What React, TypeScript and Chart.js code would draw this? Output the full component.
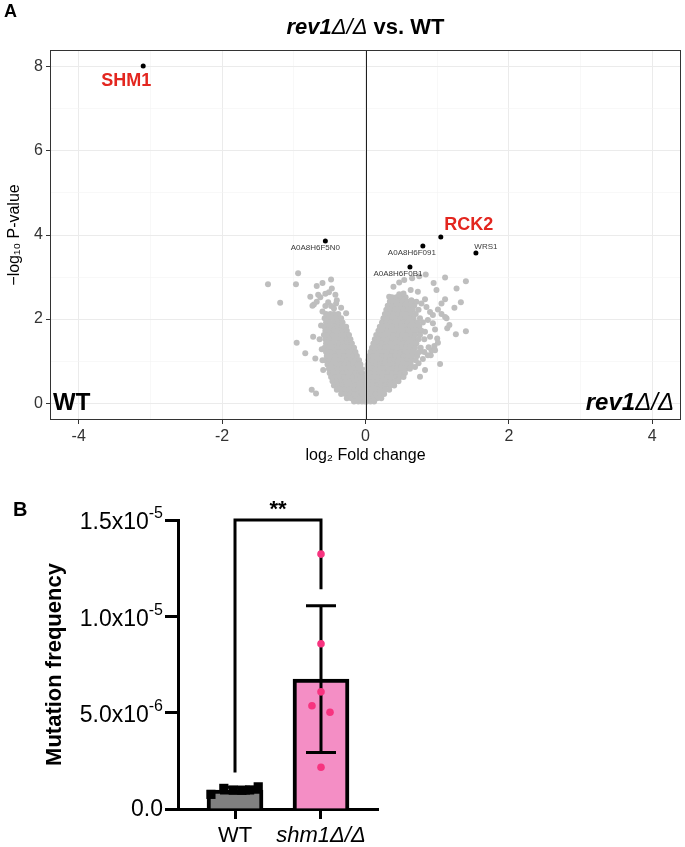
import React, { useEffect, useRef } from 'react';
import { Chart, registerables } from 'chart.js';

Chart.register(...registerables);

const FONT = "'Liberation Sans', Arial, Helvetica, sans-serif";

// ---------------- Panel A: volcano plot data ----------------
const volcanoTitle = ['rev1', 'Δ/Δ', ' vs. WT'];
const volcanoXTicks = [-4, -3, -2, -1, 0, 1, 2, 3, 4];
const volcanoXTickLabels = ['-4', '', '-2', '', '0', '', '2', '', '4'];
const volcanoYTicks = [0, 1, 2, 3, 4, 5, 6, 7, 8];
const volcanoYTickLabels = ['0', '', '2', '', '4', '', '6', '', '8'];

const highlightGenes = ['SHM1', 'A0A8H6F5N0', 'RCK2', 'A0A8H6F091', 'WRS1', 'A0A8H6F0B1'];
const highlightLog2FC = [-3.10, -0.56, 1.05, 0.80, 1.54, 0.62];
const highlightNegLogP = [8.02, 3.86, 3.95, 3.74, 3.57, 3.24];

// dense cloud rows: [ -log10 p, [log2 FC values] ]
const leftCloudRows: [number, number[]][] = [
  [2.12, [-0.55, -0.49, -0.44, -0.38]],
  [2.02, [-0.57, -0.51, -0.45, -0.40, -0.34]],
  [1.92, [-0.55, -0.50, -0.44, -0.38, -0.32]],
  [1.82, [-0.57, -0.51, -0.45, -0.39, -0.33, -0.27]],
  [1.72, [-0.56, -0.50, -0.44, -0.38, -0.32, -0.26]],
  [1.62, [-0.58, -0.52, -0.46, -0.40, -0.34, -0.28, -0.23]],
  [1.52, [-0.56, -0.50, -0.44, -0.38, -0.32, -0.26, -0.21]],
  [1.42, [-0.55, -0.49, -0.43, -0.37, -0.31, -0.25, -0.19]],
  [1.32, [-0.57, -0.51, -0.45, -0.39, -0.33, -0.27, -0.21, -0.16]],
  [1.22, [-0.55, -0.49, -0.43, -0.37, -0.31, -0.25, -0.19, -0.14]],
  [1.12, [-0.54, -0.48, -0.42, -0.36, -0.30, -0.24, -0.18, -0.12]],
  [1.02, [-0.56, -0.50, -0.44, -0.38, -0.32, -0.26, -0.20, -0.14, -0.09]],
  [0.92, [-0.53, -0.47, -0.41, -0.35, -0.29, -0.23, -0.17, -0.11, -0.07]],
  [0.82, [-0.51, -0.45, -0.39, -0.33, -0.27, -0.21, -0.15, -0.10, -0.06]],
  [0.72, [-0.50, -0.44, -0.38, -0.32, -0.26, -0.20, -0.14, -0.09, -0.05]],
  [0.62, [-0.48, -0.42, -0.36, -0.30, -0.24, -0.18, -0.12, -0.07, -0.04]],
  [0.52, [-0.46, -0.40, -0.34, -0.28, -0.22, -0.16, -0.10, -0.05, -0.03]],
  [0.42, [-0.44, -0.38, -0.32, -0.26, -0.20, -0.14, -0.08, -0.03]],
  [0.32, [-0.40, -0.34, -0.28, -0.22, -0.16, -0.10, -0.05, -0.02]],
  [0.22, [-0.34, -0.28, -0.22, -0.16, -0.10, -0.05, -0.01]],
  [0.12, [-0.26, -0.20, -0.14, -0.08, -0.03]],
  [0.04, [-0.16, -0.10, -0.05, -0.01]],
];

const rightCloudRows: [number, number[]][] = [
  [2.52, [0.37, 0.43, 0.49, 0.56]],
  [2.42, [0.34, 0.40, 0.46, 0.52, 0.58, 0.65]],
  [2.32, [0.31, 0.37, 0.43, 0.49, 0.55, 0.61, 0.68]],
  [2.22, [0.29, 0.35, 0.41, 0.47, 0.53, 0.59, 0.66, 0.74]],
  [2.12, [0.27, 0.33, 0.39, 0.45, 0.51, 0.57, 0.63, 0.70]],
  [2.02, [0.25, 0.31, 0.37, 0.43, 0.49, 0.55, 0.61, 0.67, 0.76]],
  [1.92, [0.23, 0.29, 0.35, 0.41, 0.47, 0.53, 0.59, 0.65, 0.72, 0.80]],
  [1.82, [0.20, 0.26, 0.32, 0.38, 0.44, 0.50, 0.56, 0.62, 0.68, 0.75]],
  [1.72, [0.18, 0.24, 0.30, 0.36, 0.42, 0.48, 0.54, 0.60, 0.66, 0.72, 0.78]],
  [1.62, [0.15, 0.21, 0.27, 0.33, 0.39, 0.45, 0.51, 0.57, 0.63, 0.69, 0.76]],
  [1.52, [0.13, 0.19, 0.25, 0.31, 0.37, 0.43, 0.49, 0.55, 0.61, 0.67, 0.74, 0.82]],
  [1.42, [0.11, 0.17, 0.23, 0.29, 0.35, 0.41, 0.47, 0.53, 0.59, 0.65, 0.71]],
  [1.32, [0.09, 0.15, 0.21, 0.27, 0.33, 0.39, 0.45, 0.51, 0.57, 0.63, 0.69, 0.77]],
  [1.22, [0.07, 0.13, 0.19, 0.25, 0.31, 0.37, 0.43, 0.49, 0.55, 0.61, 0.68, 0.75, 0.82]],
  [1.12, [0.05, 0.11, 0.17, 0.23, 0.29, 0.35, 0.41, 0.47, 0.53, 0.59, 0.65, 0.72]],
  [1.02, [0.04, 0.10, 0.16, 0.22, 0.28, 0.34, 0.40, 0.46, 0.52, 0.58, 0.64, 0.70]],
  [0.92, [0.03, 0.09, 0.15, 0.21, 0.27, 0.33, 0.39, 0.45, 0.51, 0.57, 0.63]],
  [0.82, [0.02, 0.08, 0.14, 0.20, 0.26, 0.32, 0.38, 0.44, 0.50, 0.56, 0.62]],
  [0.72, [0.02, 0.07, 0.13, 0.19, 0.25, 0.31, 0.37, 0.43, 0.49, 0.55]],
  [0.62, [0.01, 0.06, 0.12, 0.18, 0.24, 0.30, 0.36, 0.42, 0.48, 0.53]],
  [0.52, [0.01, 0.05, 0.11, 0.17, 0.23, 0.29, 0.35, 0.41, 0.46]],
  [0.42, [0.01, 0.05, 0.10, 0.16, 0.22, 0.28, 0.34, 0.40]],
  [0.32, [0.01, 0.04, 0.09, 0.15, 0.21, 0.27, 0.33]],
  [0.22, [0.01, 0.04, 0.09, 0.14, 0.20, 0.26]],
  [0.12, [0.01, 0.05, 0.10, 0.16, 0.22]],
  [0.04, [0.02, 0.07, 0.12]],
];

// scattered points: [log2 FC, -log10 p]
const scatteredPoints: [number, number][] = [
  [-0.94, 3.09], [-1.36, 2.83], [-0.97, 2.83], [-1.19, 2.39], [-0.96, 1.44], [-0.84, 1.19],
  [-0.73, 1.58], [-0.70, 1.06], [-0.75, 0.32], [-0.69, 0.23], [-0.68, 2.79], [-0.60, 2.86],
  [-0.48, 2.94], [-0.77, 2.53], [-0.66, 2.58], [-0.56, 2.60], [-0.47, 2.73], [-0.51, 2.64],
  [-0.72, 2.35], [-0.68, 2.41], [-0.52, 2.40], [-0.41, 2.37], [-0.44, 2.25], [-0.34, 2.27],
  [-0.27, 2.14], [-0.63, 2.52], [-0.42, 2.58], [-0.74, 2.32], [-0.56, 2.31], [-0.48, 2.31],
  [-0.40, 2.45], [-0.60, 1.02], [-0.59, 0.79], [-0.61, 1.28], [-0.62, 1.85], [-0.60, 2.18],
  [-0.64, 1.52],
  [1.11, 2.99], [1.40, 2.90], [1.27, 2.73], [1.33, 2.40], [1.24, 2.27], [1.11, 2.47],
  [0.95, 2.86], [0.84, 3.06], [0.75, 3.02], [0.65, 2.97], [0.54, 2.93], [0.47, 2.87],
  [0.39, 2.77], [1.40, 1.71], [1.26, 1.64], [1.14, 1.78], [1.17, 1.86], [1.13, 2.02],
  [1.04, 0.93], [0.92, 1.26], [0.87, 1.14], [0.63, 2.69], [0.73, 2.65], [0.83, 2.47],
  [0.71, 2.41], [0.64, 2.45], [0.53, 2.61], [0.33, 2.53], [0.47, 2.59], [0.99, 2.69],
  [1.06, 2.37], [1.01, 2.23], [1.06, 2.12], [1.11, 2.05], [0.88, 1.33], [0.83, 0.79],
  [0.76, 0.63], [0.78, 2.37], [0.85, 2.29], [0.90, 2.17], [0.94, 2.10], [0.87, 1.98],
  [0.94, 1.90], [0.97, 1.75], [1.00, 1.54], [1.01, 1.44], [0.96, 1.36], [0.90, 1.58],
  [0.83, 1.70], [0.97, 1.26], [0.91, 1.14], [0.80, 1.05], [0.74, 0.95], [0.69, 0.86],
];

// ---------------- Panel B: bar chart data ----------------
const mfCategories = ['WT', 'shm1Δ/Δ'];
const mfMeans = [0.98e-6, 6.74e-6];
const mfSD = [0.15e-6, 3.81e-6];
const wtReplicates = [0.76e-6, 1.07e-6, 0.98e-6, 0.97e-6, 0.99e-6, 1.15e-6];
const wtJitter = [-0.28, -0.13, -0.02, 0.08, 0.17, 0.27];
const shmReplicates = [13.23e-6, 8.58e-6, 6.08e-6, 5.36e-6, 5.02e-6, 2.17e-6];
const shmJitter = [0, 0, 0, -0.105, 0.105, 0];
const mfYTicks = [0, 5e-6, 1e-5, 1.5e-5];
const mfYTickMantissa = ['0.0', '5.0x10', '1.0x10', '1.5x10'];
const mfYTickExponent = ['', '-6', '-5', '-5'];
const sigLabel = '**';
const sigBracketLeftBase = 1.89e-6;
const sigBracketRightBase = 11.4e-6;
const sigBracketTop = 1.5e-5;

// ---------------- styles (not data) ----------------
const geneLabelStyle: Record<string, { dx: number; dy: number; color: string; font: string }> = {
  SHM1: { dx: -17, dy: 15, color: '#E3261F', font: `bold 18px ${FONT}` },
  A0A8H6F5N0: { dx: -10, dy: 7, color: '#3a3a3a', font: `8px ${FONT}` },
  RCK2: { dx: 28, dy: -12, color: '#E3261F', font: `bold 18px ${FONT}` },
  A0A8H6F091: { dx: -11, dy: 7, color: '#3a3a3a', font: `8px ${FONT}` },
  WRS1: { dx: 10, dy: -6, color: '#3a3a3a', font: `8px ${FONT}` },
  A0A8H6F0B1: { dx: -12, dy: 7, color: '#3a3a3a', font: `8px ${FONT}` },
};

type Run = { text: string; font: string };
function drawRuns(ctx: CanvasRenderingContext2D, runs: Run[], x: number, y: number, align: 'left' | 'center' | 'right') {
  let total = 0;
  for (const r of runs) { ctx.font = r.font; total += ctx.measureText(r.text).width; }
  let cx = align === 'left' ? x : align === 'center' ? x - total / 2 : x - total;
  ctx.textAlign = 'left';
  for (const r of runs) {
    ctx.font = r.font;
    ctx.fillText(r.text, cx, y);
    cx += ctx.measureText(r.text).width;
  }
}

const volcanoDecor = {
  id: 'volcanoDecor',
  afterDatasetsDraw(chart: any) {
    const { ctx, chartArea: ca, scales } = chart;
    const x = scales.x, y = scales.y;
    ctx.save();
    // vertical line at 0
    const x0 = Math.round(x.getPixelForValue(0)) + 0.5;
    ctx.strokeStyle = '#1f1f1f';
    ctx.lineWidth = 1;
    ctx.beginPath();
    ctx.moveTo(x0, ca.top);
    ctx.lineTo(x0, ca.bottom);
    ctx.stroke();
    // gene labels
    ctx.textBaseline = 'middle';
    highlightGenes.forEach((g, i) => {
      const st = geneLabelStyle[g];
      const px = x.getPixelForValue(highlightLog2FC[i]) + st.dx;
      const py = y.getPixelForValue(highlightNegLogP[i]) + st.dy;
      ctx.font = st.font;
      ctx.fillStyle = st.color;
      ctx.textAlign = 'center';
      ctx.fillText(g, px, py);
    });
    // group annotations
    const yb = y.getPixelForValue(0);
    ctx.fillStyle = '#000';
    drawRuns(ctx, [{ text: 'WT', font: `bold 24px ${FONT}` }], ca.left + 3, yb, 'left');
    drawRuns(ctx, [
      { text: 'rev1', font: `italic bold 24px ${FONT}` },
      { text: 'Δ/Δ', font: `italic 24px ${FONT}` },
    ], ca.right - 7, yb, 'right');
    // panel border
    ctx.strokeStyle = '#333333';
    ctx.lineWidth = 1;
    ctx.strokeRect(Math.round(ca.left) + 0.5, Math.round(ca.top) + 0.5, Math.round(ca.width) - 1, Math.round(ca.height) - 1);
    ctx.restore();
  },
  afterDraw(chart: any) {
    const { ctx, chartArea: ca } = chart;
    ctx.save();
    ctx.fillStyle = '#000';
    ctx.textBaseline = 'middle';
    drawRuns(ctx, [
      { text: volcanoTitle[0], font: `italic bold 22px ${FONT}` },
      { text: volcanoTitle[1], font: `italic 22px ${FONT}` },
      { text: volcanoTitle[2], font: `bold 22px ${FONT}` },
    ], (ca.left + ca.right) / 2, 28, 'center');
    drawRuns(ctx, [{ text: 'A', font: `bold 18px ${FONT}` }], 4, 12, 'left');
    ctx.restore();
  },
};

const barDecor = {
  id: 'barDecor',
  afterDatasetDraw(chart: any, args: any) {
    if (args.index !== 2) return;
    const { ctx, scales } = chart;
    const x = scales.x, y = scales.y;
    ctx.save();
    ctx.strokeStyle = '#000';
    ctx.lineWidth = 3;
    ctx.lineCap = 'butt';
    // error bars
    mfMeans.forEach((m, i) => {
      const cx = x.getPixelForValue(i + 1);
      const top = y.getPixelForValue(m + mfSD[i]);
      const bot = y.getPixelForValue(m - mfSD[i]);
      ctx.beginPath();
      ctx.moveTo(cx, top); ctx.lineTo(cx, bot);
      ctx.moveTo(cx - 15, top); ctx.lineTo(cx + 15, top);
      ctx.moveTo(cx - 15, bot); ctx.lineTo(cx + 15, bot);
      ctx.stroke();
    });
    // significance bracket
    const x1 = x.getPixelForValue(1), x2 = x.getPixelForValue(2);
    const yt = y.getPixelForValue(sigBracketTop);
    ctx.beginPath();
    ctx.moveTo(x1, y.getPixelForValue(sigBracketLeftBase));
    ctx.lineTo(x1, yt);
    ctx.lineTo(x2, yt);
    ctx.lineTo(x2, y.getPixelForValue(sigBracketRightBase));
    ctx.stroke();
    ctx.fillStyle = '#000';
    ctx.font = `bold 22px ${FONT}`;
    ctx.textAlign = 'center';
    ctx.textBaseline = 'alphabetic';
    ctx.fillText(sigLabel, (x1 + x2) / 2, yt - 4);
    ctx.restore();
  },
  afterDraw(chart: any) {
    const { ctx, chartArea: ca, scales } = chart;
    const y = scales.y;
    ctx.save();
    ctx.fillStyle = '#000';
    const right = ca.left - 15;
    mfYTicks.forEach((v, i) => {
      const py = y.getPixelForValue(v);
      const exp = mfYTickExponent[i];
      ctx.font = `16px ${FONT}`;
      const ew = exp ? ctx.measureText(exp).width : 0;
      ctx.textBaseline = 'middle';
      ctx.textAlign = 'right';
      ctx.font = `23px ${FONT}`;
      ctx.fillText(mfYTickMantissa[i], right - ew, py + (exp ? 3 : 1));
      if (exp) {
        ctx.font = `16px ${FONT}`;
        ctx.fillText(exp, right, py - 6);
      }
    });
    ctx.font = `bold 20px ${FONT}`;
    ctx.textAlign = 'left';
    ctx.textBaseline = 'middle';
    ctx.fillText('B', 13, 30);
    ctx.restore();
  },
};

function VolcanoChart() {
  const ref = useRef<HTMLCanvasElement>(null);
  useEffect(() => {
    if (!ref.current) return;
    const cloud: { x: number; y: number }[] = [];
    for (const [yy, xs] of leftCloudRows) for (const xx of xs) cloud.push({ x: xx, y: yy });
    for (const [yy, xs] of rightCloudRows) for (const xx of xs) cloud.push({ x: xx, y: yy });
    for (const [xx, yy] of scatteredPoints) cloud.push({ x: xx, y: yy });
    const hi = highlightLog2FC.map((v, i) => ({ x: v, y: highlightNegLogP[i] }));
    const gridColor = (c: any) => (Math.abs(c.tick.value) % 2 === 0 ? '#EBEBEB' : '#F3F3F3');
    const gridWidth = (c: any) => (Math.abs(c.tick.value) % 2 === 0 ? 1 : 0.6);
    const tickColor = (c: any) => (Math.abs(c.tick.value) % 2 === 0 ? '#333333' : 'rgba(0,0,0,0)');
    const chart = new Chart(ref.current, {
      type: 'scatter',
      data: {
        datasets: [
          { data: hi, pointRadius: 2.5, pointBackgroundColor: '#000', pointBorderWidth: 0, order: 0 },
          { data: cloud, pointRadius: 3, pointBackgroundColor: '#BEBEBE', pointBorderWidth: 0, order: 1 },
        ],
      },
      options: {
        animation: false,
        responsive: false,
        devicePixelRatio: 1,
        events: [],
        layout: { padding: { left: 0, right: 2, top: 50, bottom: 0 } },
        plugins: { legend: { display: false }, tooltip: { enabled: false } },
        scales: {
          x: {
            type: 'linear', min: -4.4, max: 4.4,
            afterBuildTicks: (s: any) => { s.ticks = volcanoXTicks.map((v) => ({ value: v })); },
            afterFit: (s: any) => { s.height = 50; },
            grid: { color: gridColor, lineWidth: gridWidth, tickColor, tickLength: 4, tickWidth: 1 },
            border: { display: false },
            ticks: {
              callback: (_v: any, i: number) => volcanoXTickLabels[i],
              color: '#333333', font: { family: FONT, size: 16 }, padding: 3, maxRotation: 0, autoSkip: false,
            },
            title: { display: true, text: 'log₂ Fold change', color: '#000', font: { family: FONT, size: 16 }, padding: { top: 0, bottom: 5 } },
          },
          y: {
            type: 'linear', min: -0.4, max: 8.4,
            afterBuildTicks: (s: any) => { s.ticks = volcanoYTicks.map((v) => ({ value: v })); },
            afterFit: (s: any) => { s.width = 50; },
            grid: { color: gridColor, lineWidth: gridWidth, tickColor, tickLength: 4, tickWidth: 1 },
            border: { display: false },
            ticks: {
              callback: (_v: any, i: number) => volcanoYTickLabels[i],
              color: '#333333', font: { family: FONT, size: 16 }, padding: 3, autoSkip: false,
            },
            title: { display: true, text: '−log₁₀ P-value', color: '#000', font: { family: FONT, size: 16 }, padding: { top: 5, bottom: 0 } },
          },
        },
      },
      plugins: [volcanoDecor],
    } as any);
    return () => chart.destroy();
  }, []);
  return <canvas ref={ref} width={685} height={470} style={{ position: 'absolute', left: 0, top: 0 }} />;
}

function BarChart() {
  const ref = useRef<HTMLCanvasElement>(null);
  useEffect(() => {
    if (!ref.current) return;
    const chart = new Chart(ref.current, {
      type: 'bar',
      data: {
        datasets: [
          {
            type: 'scatter',
            data: wtReplicates.map((v, i) => ({ x: 1 + wtJitter[i], y: v })),
            pointStyle: 'rect', pointRadius: 6.5, pointBackgroundColor: '#000', pointBorderWidth: 0, order: 0,
          },
          {
            type: 'scatter',
            data: shmReplicates.map((v, i) => ({ x: 2 + shmJitter[i], y: v })),
            pointRadius: 3.8, pointBackgroundColor: '#F7337F', pointBorderWidth: 0, order: 0,
          },
          {
            type: 'bar',
            data: mfMeans.map((m, i) => ({ x: i + 1, y: m })),
            backgroundColor: ['#808080', '#F48EC5'],
            borderColor: '#000', borderWidth: 4, borderSkipped: 'start',
            barThickness: 56, order: 2,
          },
        ],
      },
      options: {
        animation: false,
        responsive: false,
        devicePixelRatio: 1,
        events: [],
        layout: { padding: { left: 0, right: 22, top: 40, bottom: 0 } },
        plugins: { legend: { display: false }, tooltip: { enabled: false } },
        scales: {
          x: {
            type: 'linear', min: 0.337, max: 2.663, offset: false,
            afterBuildTicks: (s: any) => { s.ticks = mfCategories.map((_c, i) => ({ value: i + 1 })); },
            afterFit: (s: any) => { s.height = 38; },
            grid: { display: true, offset: false, drawOnChartArea: false, drawTicks: true, tickLength: 10, tickWidth: 3, tickColor: '#000' },
            border: { display: true, color: '#000', width: 3 },
            ticks: {
              callback: (_v: any, i: number) => mfCategories[i],
              color: '#000',
              font: (c: any) => ({ family: FONT, size: 22, style: c.index === 1 ? 'italic' : 'normal' }),
              padding: 4, maxRotation: 0, autoSkip: false,
            },
          },
          y: {
            type: 'linear', min: 0, max: 1.5e-5,
            afterBuildTicks: (s: any) => { s.ticks = mfYTicks.map((v) => ({ value: v })); },
            afterFit: (s: any) => { s.width = 178; },
            grid: { display: true, drawOnChartArea: false, drawTicks: true, tickLength: 13, tickWidth: 3, tickColor: '#000' },
            border: { display: true, color: '#000', width: 3 },
            ticks: { display: false },
            title: { display: true, text: 'Mutation frequency', color: '#000', font: { family: FONT, size: 22, weight: 'bold' }, padding: { top: 42, bottom: 0 } },
          },
        },
      },
      plugins: [barDecor],
    } as any);
    return () => chart.destroy();
  }, []);
  return <canvas ref={ref} width={400} height={367} style={{ position: 'absolute', left: 0, top: 480 }} />;
}

export default function App() {
  return (
    <div style={{ position: 'absolute', left: 0, top: 0, width: 685, height: 847, background: '#fff' }}>
      <VolcanoChart />
      <BarChart />
    </div>
  );
}
